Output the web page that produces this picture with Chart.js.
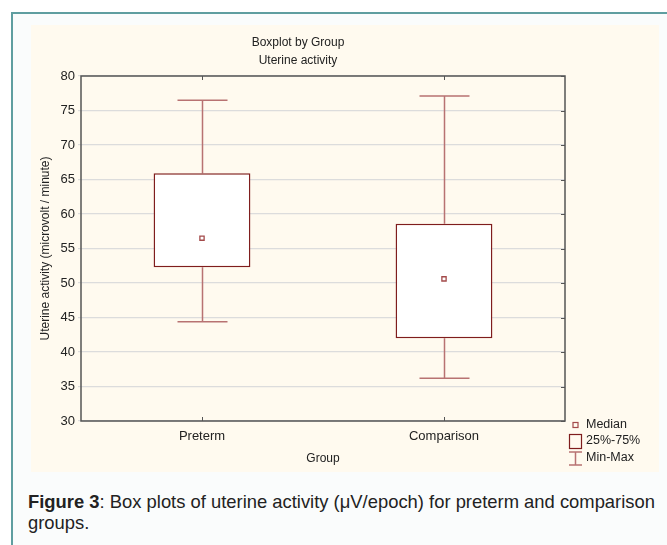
<!DOCTYPE html>
<html>
<head>
<meta charset="utf-8">
<script src="https://cdn.jsdelivr.net/npm/chart.js@4.4.1/dist/chart.umd.min.js"></script>
<style>
  html, body { margin: 0; padding: 0; background: #ffffff; }
  body { width: 667px; height: 545px; overflow: hidden; position: relative; font-family: "Liberation Sans", Arial, sans-serif; }
  #frame {
    position: absolute; left: 11px; top: 12px; width: 700px; height: 600px;
    border-left: 2px solid #5f9ea0; border-top: 2px solid #5f9ea0;
    background: #fafcfc;
  }
  #panel { position: absolute; left: 31px; top: 25px; width: 628px; height: 447px; background: #fffaef; }
  #caption {
    position: absolute; left: 28px; top: 491px; width: 638px;
    font-size: 18.4px; line-height: 21px; color: #222;
  }
</style>
</head>
<body>
<div id="frame"></div>
<div id="panel"><canvas id="boxChart" width="628" height="447"></canvas></div>
<div id="caption"><b>Figure 3</b>: Box plots of uterine activity (μV/epoch) for preterm and comparison groups.</div>

<script>
// Data
const groups = ['Preterm', 'Comparison'];
const minValues = [44.4, 36.2];
const q1Values = [52.3, 42.0];
const medianValues = [56.5, 50.6];
const q3Values = [65.9, 58.6];
const maxValues = [76.5, 77.1];
const yTicks = [30, 35, 40, 45, 50, 55, 60, 65, 70, 75, 80];

const boxColor = '#7f1d1d';
const whiskerColor = '#b87272';
const medianColor = '#a34a4a';
const axisColor = '#555555';

// whiskers, frame and inner tick marks
const boxplotExtras = {
  id: 'boxplotExtras',
  beforeDatasetsDraw(chart) {
    const { ctx, scales: { x, y } } = chart;
    const capHalf = 25;
    ctx.save();
    ctx.strokeStyle = whiskerColor;
    ctx.lineWidth = 1.5;
    groups.forEach((g, i) => {
      const cx = Math.round(x.getPixelForValue(i)) + 0.5;
      const yMax = y.getPixelForValue(maxValues[i]);
      const yQ3 = y.getPixelForValue(q3Values[i]);
      const yQ1 = y.getPixelForValue(q1Values[i]);
      const yMin = y.getPixelForValue(minValues[i]);
      ctx.beginPath();
      ctx.moveTo(cx, yMax); ctx.lineTo(cx, yQ3);
      ctx.moveTo(cx, yQ1); ctx.lineTo(cx, yMin);
      ctx.moveTo(cx - capHalf, yMax); ctx.lineTo(cx + capHalf, yMax);
      ctx.moveTo(cx - capHalf, yMin); ctx.lineTo(cx + capHalf, yMin);
      ctx.stroke();
    });
    ctx.restore();
  },
  afterDraw(chart) {
    const { ctx, chartArea: a, scales: { x, y } } = chart;
    ctx.save();
    ctx.strokeStyle = axisColor;
    ctx.lineWidth = 1.5;
    ctx.strokeRect(a.left, a.top, a.right - a.left, a.bottom - a.top);
    ctx.lineWidth = 1;
    ctx.beginPath();
    groups.forEach((g, i) => {
      const cx = Math.round(x.getPixelForValue(i)) + 0.5;
      ctx.moveTo(cx, a.top); ctx.lineTo(cx, a.top + 4);
      ctx.moveTo(cx, a.bottom); ctx.lineTo(cx, a.bottom - 4);
    });
    yTicks.forEach(v => {
      const py = Math.round(y.getPixelForValue(v)) + 0.5;
      ctx.moveTo(a.right, py); ctx.lineTo(a.right - 4, py);
    });
    ctx.stroke();

    // legend
    const lx = a.right + 10;
    ctx.font = '12.5px "Liberation Sans", Arial, sans-serif';
    ctx.fillStyle = '#222';
    ctx.textBaseline = 'middle';
    ctx.fillText('Median', lx + 11, a.bottom + 4);
    ctx.fillText('25%-75%', lx + 11, a.bottom + 20);
    ctx.fillText('Min-Max', lx + 11, a.bottom + 37);

    ctx.strokeStyle = medianColor;
    ctx.lineWidth = 1.2;
    ctx.strokeRect(lx - 2.5 + 0.5, a.bottom + 1.5, 5, 5);
    ctx.strokeStyle = boxColor;
    ctx.strokeRect(lx - 6 + 0.5, a.bottom + 13.5, 12, 14);
    ctx.strokeStyle = whiskerColor;
    ctx.lineWidth = 1.5;
    ctx.beginPath();
    ctx.moveTo(lx - 6, a.bottom + 31); ctx.lineTo(lx + 7, a.bottom + 31);
    ctx.moveTo(lx + 0.5, a.bottom + 31); ctx.lineTo(lx + 0.5, a.bottom + 44);
    ctx.moveTo(lx - 6, a.bottom + 44); ctx.lineTo(lx + 7, a.bottom + 44);
    ctx.stroke();
    ctx.restore();
  }
};

document.addEventListener('DOMContentLoaded', function() {
  const ctx = document.getElementById('boxChart').getContext('2d');
  new Chart(ctx, {
    type: 'bar',
    data: {
      labels: groups,
      datasets: [
        {
          label: '25%-75%',
          data: groups.map((g, i) => [q1Values[i], q3Values[i]]),
          backgroundColor: '#ffffff',
          borderColor: boxColor,
          borderWidth: 1.5,
          borderSkipped: false,
          barPercentage: 0.4,
          categoryPercentage: 1.0,
          order: 2
        },
        {
          type: 'line',
          label: 'Median',
          data: medianValues,
          showLine: false,
          pointStyle: 'rect',
          pointRadius: 3,
          pointBorderWidth: 1.3,
          pointBorderColor: medianColor,
          pointBackgroundColor: '#ffffff',
          order: 1
        }
      ]
    },
    options: {
      responsive: false,
      animation: false,
      layout: { padding: { left: 0, right: 94, top: 0, bottom: 0 } },
      plugins: {
        legend: { display: false },
        tooltip: { enabled: false },
        title: {
          display: true,
          text: ['Boxplot by Group', 'Uterine activity'],
          color: '#222',
          font: { family: '"Liberation Sans", Arial, sans-serif', size: 12, weight: 'normal', lineHeight: 1.5 },
          padding: { top: 9, bottom: 6 }
        }
      },
      scales: {
        x: {
          grid: { display: false, drawTicks: false },
          border: { display: false },
          ticks: { color: '#222', padding: 8, font: { family: '"Liberation Sans", Arial, sans-serif', size: 13 } },
          title: {
            display: true, text: 'Group', color: '#222',
            font: { family: '"Liberation Sans", Arial, sans-serif', size: 12 },
            padding: { top: 0, bottom: 6 }
          },
          afterFit: scale => { scale.height = 51; }
        },
        y: {
          min: 30, max: 80,
          afterBuildTicks: scale => { scale.ticks = yTicks.map(v => ({ value: v })); },
          grid: { color: '#dcdcdc', lineWidth: 1.2, tickLength: 3, drawOnChartArea: true },
          border: { display: false },
          ticks: { color: '#222', padding: 3, font: { family: '"Liberation Sans", Arial, sans-serif', size: 13 } },
          title: {
            display: true, text: 'Uterine activity (microvolt / minute)', color: '#222',
            font: { family: '"Liberation Sans", Arial, sans-serif', size: 12 },
            padding: { top: 7, bottom: 0 }
          },
          afterFit: scale => { scale.width = 50; }
        }
      }
    },
    plugins: [boxplotExtras]
  });
});
</script>
</body>
</html>
